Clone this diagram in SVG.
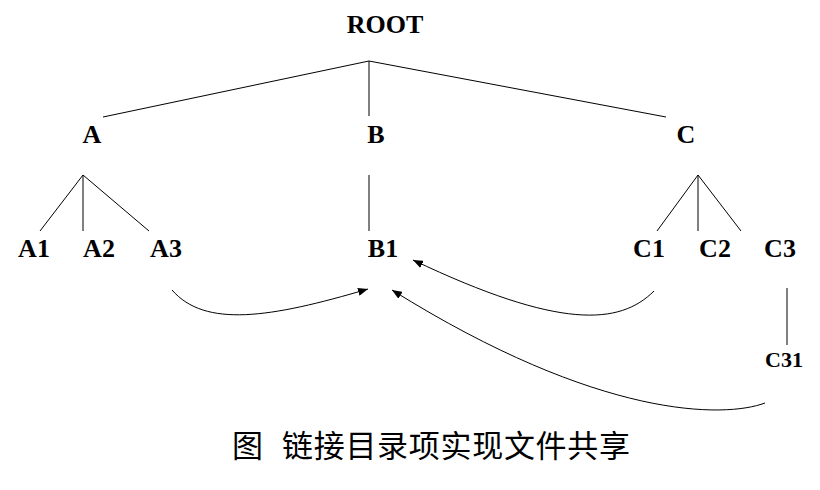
<svg xmlns="http://www.w3.org/2000/svg" width="820" height="490" viewBox="0 0 820 490">
<style>
.lbl{font-family:"Liberation Serif","Times New Roman",serif;font-weight:bold;font-size:26px;fill:#000;text-anchor:middle}
.sm{font-size:22px}
.edge{stroke:#000;stroke-width:1;fill:none}
.cap{font-family:"Noto Sans CJK SC","Noto Sans",sans-serif;font-size:31px;letter-spacing:0.7px;fill:#000}
</style>
<defs>
<marker id="ah" viewBox="0 0 10 8" refX="10" refY="4" markerWidth="10" markerHeight="8" markerUnits="userSpaceOnUse" orient="auto">
<path d="M0,0 L10,4 L0,8 z" fill="#000"/>
</marker>
</defs>
<rect width="820" height="490" fill="#fff"/>
<g id="connectors">
<path class="edge" d="M369,61 L103,117 M369,61 L369,116 M369,61 L666,117"/>
<path class="edge" d="M83,175 L40,231 M83,175 L83,231 M83,175 L149,231"/>
<path class="edge" d="M369,175 L369,231"/>
<path class="edge" d="M698,175 L657,231 M698,175 L698,231 M698,175 L741,231"/>
<path class="edge" d="M787,288 L787,345"/>
<path class="edge" marker-end="url(#ah)" d="M172,290 C205,328 270,318 368,289"/>
<path class="edge" marker-end="url(#ah)" d="M654,291 C620,325 560,330 413,260"/>
<path class="edge" marker-end="url(#ah)" d="M765,403 C725,418 600,420 392,290"/>
</g>
<g id="ROOT"><text class="lbl" x="385" y="33">ROOT</text></g>
<g id="A"><text class="lbl" x="92" y="143">A</text></g>
<g id="B"><text class="lbl" x="376" y="143">B</text></g>
<g id="C"><text class="lbl" x="686" y="143">C</text></g>
<g id="A1"><text class="lbl" x="34" y="257">A1</text></g>
<g id="A2"><text class="lbl" x="99" y="257">A2</text></g>
<g id="A3"><text class="lbl" x="166" y="257">A3</text></g>
<g id="B1"><text class="lbl" x="383" y="257">B1</text></g>
<g id="C1"><text class="lbl" x="649" y="257">C1</text></g>
<g id="C2"><text class="lbl" x="715" y="257">C2</text></g>
<g id="C3"><text class="lbl" x="780" y="257">C3</text></g>
<g id="C31"><text class="lbl sm" x="784" y="367">C31</text></g>
<g id="caption"><text class="cap" y="457"><tspan x="232">图 </tspan><tspan x="282">链接目录项实现文件共享</tspan></text></g>
</svg>
